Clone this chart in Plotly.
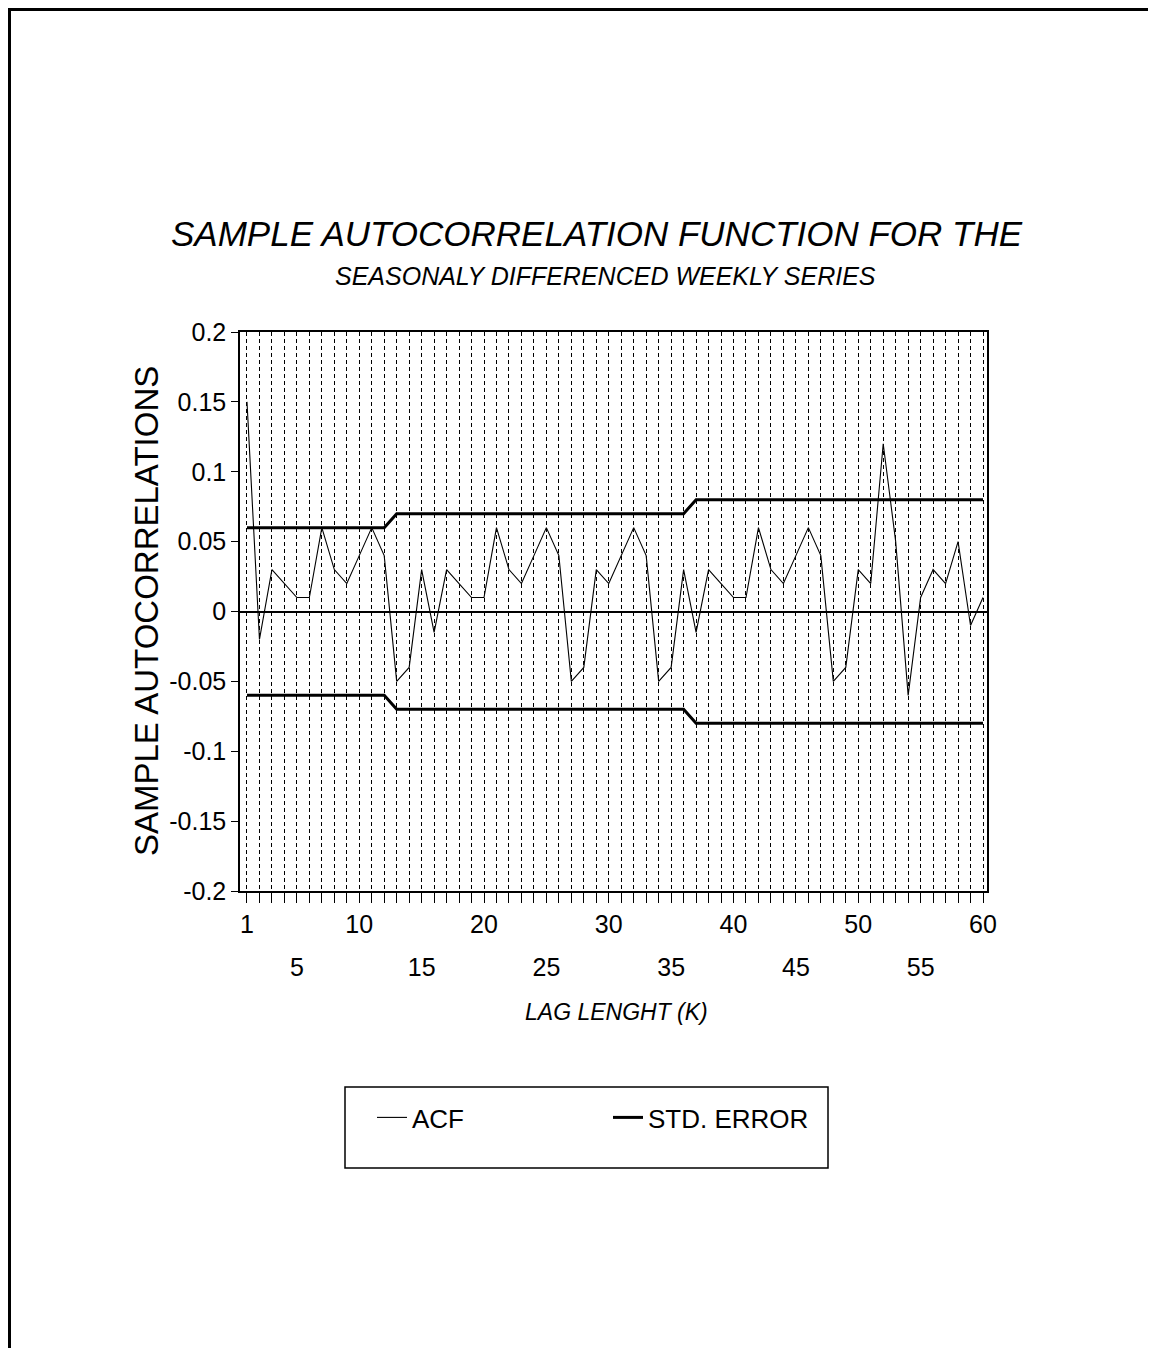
import plotly.graph_objects as go

# ---- data ----
lags = list(range(1, 61))
acf = [0.15, -0.02, 0.03, 0.02, 0.01, 0.01, 0.06, 0.03, 0.02, 0.04,
       0.06, 0.04, -0.05, -0.04, 0.03, -0.015, 0.03, 0.02, 0.01, 0.01,
       0.06, 0.03, 0.02, 0.04, 0.06, 0.04, -0.05, -0.04, 0.03, 0.02,
       0.04, 0.06, 0.04, -0.05, -0.04, 0.03, -0.015, 0.03, 0.02, 0.01,
       0.01, 0.06, 0.03, 0.02, 0.04, 0.06, 0.04, -0.05, -0.04, 0.03,
       0.02, 0.12, 0.05, -0.06, 0.01, 0.03, 0.02, 0.05, -0.01, 0.01]
std_upper = [0.06] * 12 + [0.07] * 24 + [0.08] * 24
std_lower = [-0.06] * 12 + [-0.07] * 24 + [-0.08] * 24

row1_ticks = [1, 10, 20, 30, 40, 50, 60]
row2_ticks = [5, 15, 25, 35, 45, 55]
y_ticks = [0.2, 0.15, 0.1, 0.05, 0, -0.05, -0.1, -0.15, -0.2]
y_tick_text = ["0.2", "0.15", "0.1", "0.05", "0", "-0.05", "-0.1", "-0.15", "-0.2"]

TITLE = "SAMPLE AUTOCORRELATION FUNCTION FOR THE"
SUBTITLE = "SEASONALY DIFFERENCED WEEKLY SERIES"
XTITLE = "LAG LENGHT (K)"
YTITLE = "SAMPLE AUTOCORRELATIONS"

SANS = "Liberation Sans, Arial, sans-serif"

OFF = 8  # page body margin
W, H = 1148, 1340
L, T = 240 - OFF, 332 - OFF
PW, PH = 747, 559
R, B = W - L - PW, H - T - PH


def px(x_page):
    return (x_page - OFF - L) / PW


def py(y_page):
    return (T + PH - (y_page - OFF)) / PH


fig = go.Figure()
fig.add_trace(go.Scatter(x=lags, y=acf, mode="lines", name="ACF",
                         line=dict(color="black", width=1.1)))
fig.add_trace(go.Scatter(x=lags, y=std_upper, mode="lines", name="STD. ERROR",
                         line=dict(color="black", width=3)))
fig.add_trace(go.Scatter(x=lags, y=std_lower, mode="lines", name="STD. ERROR",
                         showlegend=False, line=dict(color="black", width=3)))
# empty trace so the second (label-only) x axis gets drawn
fig.add_trace(go.Scatter(x=[], y=[], xaxis="x2", yaxis="y", showlegend=False,
                         hoverinfo="skip"))

xr = [0.44, 60.32]
fig.update_layout(
    width=W, height=H,
    margin=dict(l=L, r=R, t=T, b=B, autoexpand=False),
    paper_bgcolor="white", plot_bgcolor="white",
    font=dict(family=SANS, color="black"),
    xaxis=dict(range=xr, tickvals=lags,
               ticktext=[str(k) if k in row1_ticks else "" for k in lags],
               ticks="outside", ticklen=10, tickcolor="black", tickwidth=1,
               showline=True, linecolor="black", linewidth=1.5, mirror=True,
               showgrid=True, gridcolor="black", gridwidth=1, griddash="4px,3px",
               zeroline=False, tickfont=dict(size=25)),
    xaxis2=dict(range=xr, overlaying="x", anchor="y", side="bottom",
                tickvals=row2_ticks, ticktext=[str(k) for k in row2_ticks],
                ticks="outside", ticklen=10, tickcolor="rgba(0,0,0,0)",
                ticklabelstandoff=44, showline=False, showgrid=False, zeroline=False,
                tickfont=dict(size=25)),
    yaxis=dict(range=[-0.2, 0.2], tickvals=y_ticks, ticktext=y_tick_text,
               ticks="outside", ticklen=7, tickcolor="black",
               showline=True, linecolor="black", linewidth=1.5, mirror=True,
               showgrid=False, zeroline=True, zerolinecolor="black", zerolinewidth=1.5,
               tickfont=dict(size=25)),
    showlegend=True,
    legend=dict(orientation="h", x=px(372), y=py(1094), xanchor="left", yanchor="top",
                bgcolor="rgba(0,0,0,0)", borderwidth=0,
                font=dict(size=26), entrywidth=191),
    shapes=[
        dict(type="rect", xref="paper", yref="paper",
             x0=px(345), x1=px(828), y0=py(1087), y1=py(1168),
             line=dict(color="black", width=1.5)),
        dict(type="line", xref="paper", yref="paper",
             x0=px(OFF + 1.5), x1=px(OFF + 1.5), y0=py(OFF), y1=py(OFF + H),
             line=dict(color="black", width=3)),
        dict(type="line", xref="paper", yref="paper",
             x0=px(OFF), x1=px(OFF + W), y0=py(OFF + 1.5), y1=py(OFF + 1.5),
             line=dict(color="black", width=3)),
    ],
    annotations=[
        dict(text=TITLE, xref="paper", yref="paper", x=px(597), y=py(234),
             xanchor="center", yanchor="middle", showarrow=False,
             font=dict(size=35, style="italic")),
        dict(text=SUBTITLE, xref="paper", yref="paper", x=px(605), y=py(276),
             xanchor="center", yanchor="middle", showarrow=False,
             font=dict(size=25, style="italic")),
        dict(text=XTITLE, xref="paper", yref="paper", x=px(616), y=py(1012),
             xanchor="center", yanchor="middle", showarrow=False,
             font=dict(size=23, style="italic")),
        dict(text=YTITLE, xref="paper", yref="paper", x=px(146), y=py(611),
             xanchor="center", yanchor="middle", showarrow=False, textangle=-90,
             font=dict(size=33)),
    ],
)

fig.write_html("out.html")
